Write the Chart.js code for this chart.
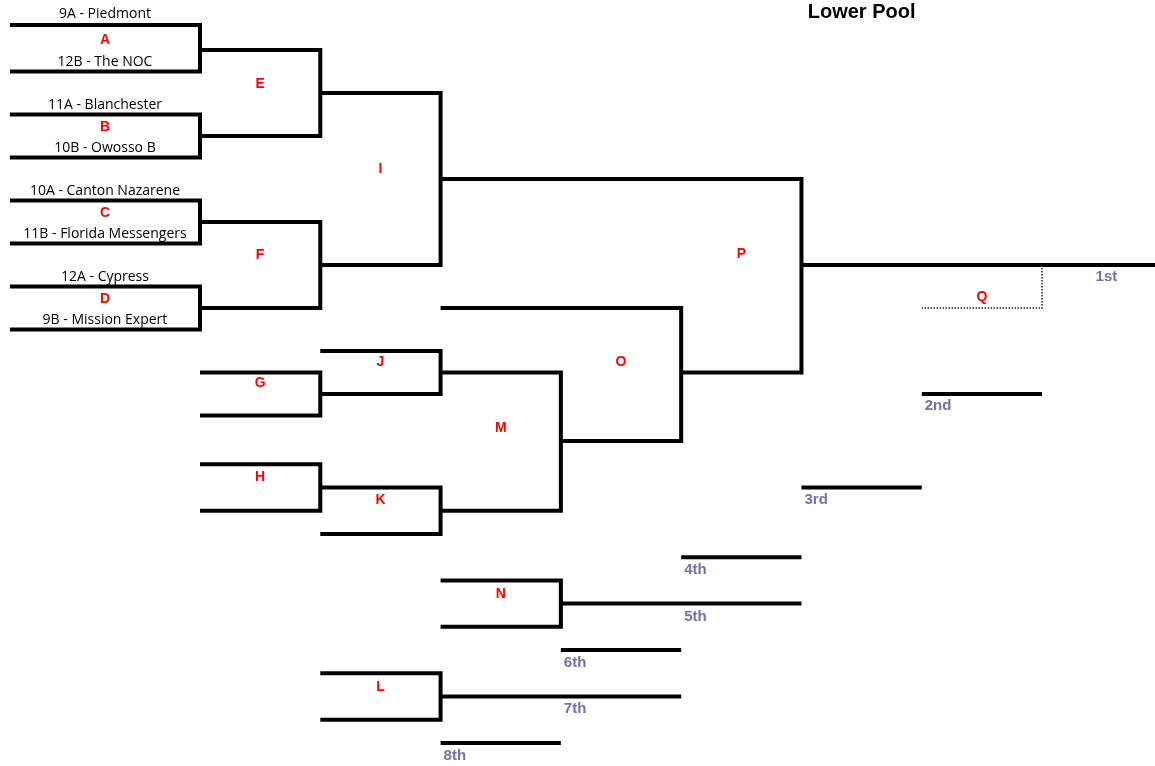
<!DOCTYPE html>
<html>
<head>
<meta charset="utf-8">
<script src="https://cdn.jsdelivr.net/npm/chart.js@4.4.1/dist/chart.umd.min.js"></script>
<style>
  html, body { margin: 0; padding: 0; background: #ffffff; }
  #wrap { width: 1155px; height: 766px; position: relative; }
</style>
</head>
<body>
<div id="wrap"><canvas id="bracket"></canvas></div>
<script>
// ---------------- data ----------------
const chartTitle = 'Lower Pool';

const teams = [
  '9A - Piedmont', '12B - The NOC',
  '11A - Blanchester', '10B - Owosso B',
  '10A - Canton Nazarene', '11B - Florida Messengers',
  '12A - Cypress', '9B - Mission Expert'
];
const teamRows = [0, 2, 4, 6, 8, 10, 12, 14];

const matchNames      = ['A','B','C','D','E','F','G','H','I','J','K','L','M','N','O','P','Q'];
const matchTopFrom    = [0, 0, 0, 0, 1, 1, 1, 1, 2, 2, 2, 2, 3, 3, 3, 3, 8];
const matchBottomFrom = [0, 0, 0, 0, 1, 1, 1, 1, 2, 2, 2, 2, 3, 3, 4, 5, 7];
const matchTo         = [1, 1, 1, 1, 2, 2, 2, 2, 3, 3, 3, 3, 4, 4, 5, 6, 8];
const matchTopRow     = [0, 4, 8, 12, 1, 9, 16, 20, 3, 15, 21, 29, 16, 25, 13, 7, 11];
const matchBottomRow  = [2, 6, 10, 14, 5, 13, 18, 22, 11, 17, 23, 31, 22, 27, 19, 16, 13];
const matchLabelRow   = [0.62, 4.6, 8.6, 12.6, 2.6, 10.55, 16.5, 20.55, 6.55, 15.5, 21.55, 29.6, 18.6, 25.58, 15.5, 10.5, 12.5];
const dottedMatches   = ['Q'];

const placeNames    = ['1st','2nd','3rd','4th','5th','6th','7th','8th'];
const placeFrom     = [6, 7, 6, 5, 4, 4, 3, 3];
const placeTo       = [9, 8, 7, 6, 6, 5, 5, 4];
const placeRow      = [11, 17, 21, 24, 26, 28, 30, 32];
const placeLabelCol = [8.42, 7, 6, 5, 5, 4, 4, 3];

// ---------------- sheet layout (grid -> axis units) ----------------
// grid column index -> x-axis value (the team column is wider)
const colX = [-0.58, 1, 2, 3, 4, 5, 6, 7, 8, 9];
const cx = c => {
  const i = Math.floor(c), f = c - i;
  if (f === 0) return colX[i];
  return colX[i] + f * (colX[i + 1] - colX[i]);
};
// grid row index -> y-axis value (row heights like the source sheet)
const rowY = k => (k < 1 ? 25 + 25 * k : (k < 19 ? 28.5 + 21.5 * k : 441 + 23.23 * (k - 19)));

// ---------------- datasets ----------------
const datasets = [];
matchNames.forEach((m, i) => {
  const dotted = dottedMatches.includes(m);
  datasets.push({
    label: 'Match ' + m,
    data: [
      { x: cx(matchTopFrom[i]),    y: rowY(matchTopRow[i]) },
      { x: cx(matchTo[i]),         y: rowY(matchTopRow[i]) },
      { x: cx(matchTo[i]),         y: rowY(matchBottomRow[i]) },
      { x: cx(matchBottomFrom[i]), y: rowY(matchBottomRow[i]) }
    ],
    showLine: true,
    borderColor: dotted ? '#222222' : '#000000',
    borderWidth: dotted ? 1.5 : 4,
    borderDash: dotted ? [1.5, 1.5] : [],
    borderJoinStyle: 'miter',
    borderCapStyle: 'butt',
    pointRadius: 0,
    fill: false,
    tension: 0
  });
});
placeNames.forEach((p, i) => {
  datasets.push({
    label: p,
    data: [
      { x: cx(placeFrom[i]), y: rowY(placeRow[i]) },
      { x: cx(placeTo[i]),   y: rowY(placeRow[i]) }
    ],
    showLine: true,
    borderColor: '#000000',
    borderWidth: 4,
    borderCapStyle: 'butt',
    pointRadius: 0,
    fill: false
  });
});

// ---------------- text plugin ----------------
const bracketText = {
  id: 'bracketText',
  afterDatasetsDraw(chart) {
    const { ctx, scales: { x, y } } = chart;
    const px = v => x.getPixelForValue(v);
    const py = v => y.getPixelForValue(v);
    ctx.save();
    ctx.textBaseline = 'middle';

    // title
    ctx.font = 'bold 20px "Liberation Sans", Arial, sans-serif';
    ctx.fillStyle = '#000000';
    ctx.textAlign = 'center';
    ctx.fillText(chartTitle, px((cx(6) + cx(7)) / 2), py(rowY(-0.52)));

    // team names
    ctx.font = '14px "Open Sans", sans-serif';
    ctx.fillStyle = '#000000';
    ctx.textAlign = 'center';
    teams.forEach((t, i) => {
      ctx.fillText(t, px((cx(0) + cx(1)) / 2), py(rowY(teamRows[i] - 0.45)));
    });

    // match labels
    ctx.font = 'bold 14px "Liberation Sans", Arial, sans-serif';
    ctx.fillStyle = '#ff0000';
    ctx.textAlign = 'center';
    matchNames.forEach((m, i) => {
      ctx.fillText(m, px((cx(matchBottomFrom[i]) + cx(matchTo[i])) / 2), py(rowY(matchLabelRow[i])));
    });

    // placings
    ctx.font = 'bold 15px "Liberation Sans", Arial, sans-serif';
    ctx.fillStyle = '#7072a8';
    ctx.textAlign = 'left';
    placeNames.forEach((p, i) => {
      ctx.fillText(p, px(cx(placeLabelCol[i])) + 3, py(rowY(placeRow[i] + 0.55)));
    });
    ctx.restore();
  }
};

new Chart(document.getElementById('bracket'), {
  type: 'scatter',
  data: { datasets },
  options: {
    responsive: true,
    maintainAspectRatio: false,
    animation: false,
    layout: { padding: 0 },
    plugins: { legend: { display: false }, tooltip: { enabled: false }, title: { display: false } },
    scales: {
      x: { type: 'linear', display: false, min: 1 - 200 / 120.29, max: 1 + 955 / 120.29 },
      y: { type: 'linear', display: false, reverse: true, min: 0, max: 766 }
    }
  },
  plugins: [bracketText]
});
</script>
</body>
</html>
